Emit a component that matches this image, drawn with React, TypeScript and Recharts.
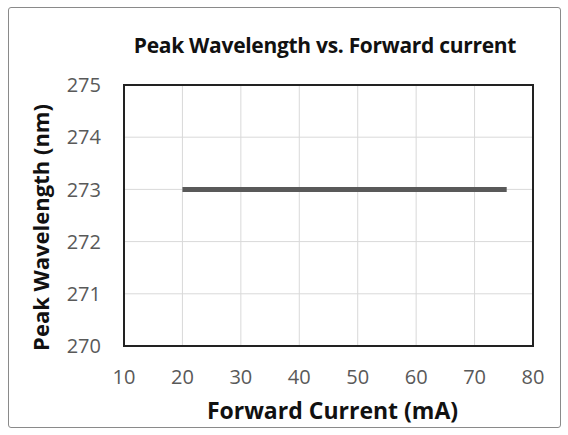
import { LineChart, Line, XAxis, YAxis, CartesianGrid, ReferenceArea, Label } from "recharts";

// Forward current sweep (mA) and measured peak wavelength (nm)
const currentMA = [20, 75.5];
const peakNm = [273, 273];

const xTicks = [10, 20, 30, 40, 50, 60, 70, 80];
const yTicks = [270, 271, 272, 273, 274, 275];

const data = currentMA.map((c, i) => ({ current: c, peak: peakNm[i] }));

const font = "'Open Sans', 'Noto Sans', sans-serif";
const tickStyle = { fontSize: 20, fill: "#595959", fontFamily: font };

export default function App() {
  return (
    <div style={{ position: "absolute", left: 0, top: 0, width: 568, height: 435, background: "#fff", fontFamily: font }}>
      {/* outer frame */}
      <div
        style={{
          position: "absolute",
          left: 8,
          top: 7,
          width: 551,
          height: 419,
          border: "1.5px solid #8a8a8a",
          borderRadius: 3,
        }}
      />
      <div
        style={{
          position: "absolute",
          left: 0,
          width: 650,
          top: 31,
          textAlign: "center",
          fontWeight: 700,
          fontSize: 21,
          letterSpacing: -0.3,
          color: "#111",
        }}
      >
        Peak Wavelength vs. Forward current
      </div>

      <div style={{ position: "absolute", left: 0, top: 0 }}>
        <LineChart width={568} height={435} data={data} margin={{ top: 85, right: 35, bottom: 0, left: 0 }}>
          <CartesianGrid stroke="#d9d9d9" strokeWidth={1} />
          <XAxis
            dataKey="current"
            type="number"
            domain={[10, 80]}
            ticks={xTicks}
            tick={tickStyle}
            tickLine={false}
            axisLine={false}
            tickMargin={18}
            height={89}
          >
            <Label
              content={({ viewBox }: any) => (
                <text
                  x={viewBox.x + viewBox.width / 2 + 4}
                  y={viewBox.y + 64}
                  textAnchor="middle"
                  dominantBaseline="central"
                  style={{ fontSize: 23, fontWeight: 700, fill: "#111", fontFamily: font }}
                >
                  Forward Current (mA)
                </text>
              )}
            />
          </XAxis>
          <YAxis
            type="number"
            domain={[270, 275]}
            ticks={yTicks}
            tick={tickStyle}
            tickLine={false}
            axisLine={false}
            tickMargin={17}
            width={124}
          >
            <Label
              content={({ viewBox }: any) => {
                const x = viewBox.x + 40;
                const y = viewBox.y + viewBox.height / 2 + 12;
                return (
                  <text
                    x={x}
                    y={y}
                    transform={`rotate(-90 ${x} ${y})`}
                    textAnchor="middle"
                    dominantBaseline="central"
                    style={{ fontSize: 22, fontWeight: 700, fill: "#111", fontFamily: font }}
                  >
                    Peak Wavelength (nm)
                  </text>
                );
              }}
            />
          </YAxis>
          {/* plot area border */}
          <ReferenceArea x1={10} x2={80} y1={270} y2={275} fill="none" stroke="#222" strokeWidth={2} ifOverflow="visible" />
          <Line
            dataKey="peak"
            stroke="#595959"
            strokeWidth={5}
            dot={false}
            isAnimationActive={false}
          />
        </LineChart>
      </div>
    </div>
  );
}
